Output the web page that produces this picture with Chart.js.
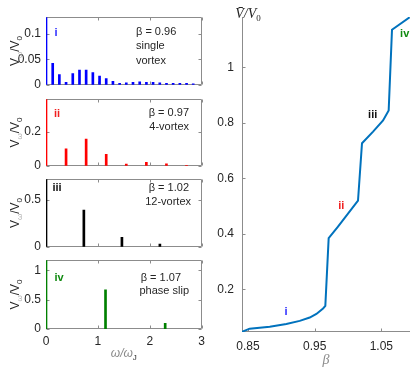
<!DOCTYPE html>
<html>
<head>
<meta charset="utf-8">
<script src="https://cdn.jsdelivr.net/npm/chart.js@4.4.1/dist/chart.umd.min.js"></script>
<style>
  body { margin: 0; background: #fff; width: 415px; height: 370px; position: relative; overflow: hidden; }
  canvas { position: absolute; }
</style>
</head>
<body>
<canvas id="p1"></canvas>
<canvas id="p2"></canvas>
<canvas id="p3"></canvas>
<canvas id="p4"></canvas>
<canvas id="vbar"></canvas>
<script>
// spectra, omega / omega_J
const omegaTicks = [0, 1, 2, 3];

const freqSingle = [0, 0.129, 0.257, 0.386, 0.515, 0.644, 0.772, 0.901, 1.03, 1.158, 1.287, 1.416,
                    1.544, 1.673, 1.802, 1.931, 2.059, 2.188, 2.317, 2.445, 2.574, 2.703, 2.831];
const ampSingle = [0.133, 0.042, 0.02, 0.005, 0.022, 0.029, 0.029, 0.024, 0.017, 0.012, 0.007, 0.003,
                   0.004, 0.005, 0.006, 0.005, 0.005, 0.004, 0.003, 0.003, 0.003, 0.003, 0.002];
const yTicksSingle = [0, 0.05, 0.1];

const freq4 = [0, 0.386, 0.772, 1.158, 1.544, 1.93, 2.316, 2.702];
const amp4 = [0.39, 0.099, 0.156, 0.067, 0.01, 0.021, 0.011, 0.003];
const yTicks4 = [0, 0.2];

const freq12 = [0, 0.728, 1.46, 2.19];
const amp12 = [0.72, 0.39, 0.1, 0.03];
const yTicks12 = [0, 0.5];

const freqSlip = [0, 1.147, 2.297];
const ampSlip = [1.17, 0.665, 0.096];
const yTicksSlip = [0, 0.5, 1];

// mean voltage vs beta
const beta = [0.841, 0.8525, 0.8826, 0.9075, 0.9276, 0.9426, 0.9526, 0.9626, 0.966, 0.971, 0.985,
              1.015, 1.021, 1.0376, 1.0526, 1.061, 1.066, 1.0925];
const vMean = [0.047, 0.058, 0.065, 0.075, 0.086, 0.098, 0.111, 0.131, 0.14, 0.384, 0.426,
               0.519, 0.726, 0.768, 0.808, 0.844, 1.135, 1.18];
const betaTicks = [0.85, 0.95, 1.05];
const vTicks = [0.2, 0.4, 0.6, 0.8, 1];

const stateLabels = ['i', 'ii', 'iii', 'iv'];
const stateBeta = [0.907, 0.99, 1.037, 1.085];
const stateV = [0.117, 0.499, 0.828, 1.121];
const stateColors = ['#2b2bff', '#f02020', '#111111', '#108a10'];

const AXIS_GREY = '#8c8c8c';
const TEXT = '#262626';
const SANS = '"Liberation Sans", Arial, sans-serif';
const SERIF = '"Liberation Serif", "Times New Roman", serif';

Chart.defaults.font.family = SANS;
Chart.defaults.font.size = 12;
Chart.defaults.color = TEXT;

// box + inward ticks, drawn under the bars
const framePlugin = {
  id: 'frame',
  beforeDatasetsDraw(chart, args, opts) {
    const { ctx, chartArea: a, scales } = chart;
    const L = Math.round(a.left) + 0.5, R = Math.round(a.right) - 0.5;
    const T = Math.round(a.top) + 0.5, B = Math.round(a.bottom) - 0.5;
    const len = opts.tickLen || 3;
    ctx.save();
    ctx.strokeStyle = AXIS_GREY;
    ctx.lineWidth = 1;
    ctx.beginPath();
    if (opts.box) {
      ctx.rect(L, T, R - L, B - T);
    } else {
      ctx.moveTo(L, a.top); ctx.lineTo(L, B); ctx.lineTo(a.right, B);
    }
    scales.x.ticks.forEach(t => {
      const px = Math.round(scales.x.getPixelForValue(t.value)) + 0.5;
      ctx.moveTo(px, B); ctx.lineTo(px, B - len);
      if (opts.box) { ctx.moveTo(px, T); ctx.lineTo(px, T + len); }
    });
    scales.y.ticks.forEach(t => {
      const py = Math.round(scales.y.getPixelForValue(t.value)) + 0.5;
      ctx.moveTo(L, py); ctx.lineTo(L + len, py);
      if (opts.box) { ctx.moveTo(R, py); ctx.lineTo(R - len, py); }
    });
    ctx.stroke();
    ctx.restore();
  }
};

// text with sub/superscripts
function drawRich(ctx, parts, x, y, rotate) {
  ctx.save();
  ctx.translate(x, y);
  if (rotate) ctx.rotate(-Math.PI / 2);
  ctx.textBaseline = 'alphabetic';
  ctx.textAlign = 'left';
  const widths = parts.map(p => { ctx.font = p.font; return ctx.measureText(p.t).width; });
  let cx = -widths.reduce((s, w) => s + w, 0) / 2;
  parts.forEach((p, i) => {
    ctx.font = p.font;
    ctx.fillStyle = p.color;
    ctx.fillText(p.t, cx, p.dy || 0);
    cx += widths[i];
  });
  ctx.restore();
}

const notesPlugin = {
  id: 'notes',
  afterDraw(chart, args, opts) {
    const { ctx, chartArea: a } = chart;
    (opts.items || []).forEach(n => {
      ctx.save();
      ctx.font = n.font;
      ctx.fillStyle = n.color;
      ctx.textAlign = n.align || 'left';
      ctx.textBaseline = 'middle';
      let x, y;
      if (n.data) {
        x = chart.scales.x.getPixelForValue(n.x);
        y = chart.scales.y.getPixelForValue(n.y);
      } else {
        x = a.left + n.x;
        y = a.top + n.y;
      }
      ctx.fillText(n.text, x, y);
      ctx.restore();
    });
    (opts.rich || []).forEach(r => drawRich(ctx, r.parts, r.x(a), r.y(a), r.rotate));
  }
};

function vOmegaTitle() {
  const big = '12px ' + SANS, small = '8px ' + SANS;
  return {
    rotate: true,
    x: a => 19,
    y: a => (a.top + a.bottom) / 2,
    parts: [
      { t: 'V', font: big, color: TEXT },
      { t: 'ω', font: small, color: '#b0b0b0', dy: 3 },
      { t: '/V', font: big, color: TEXT },
      { t: '0', font: small, color: TEXT, dy: 3 }
    ]
  };
}

function setupCanvas(id, left, top, w, h) {
  const c = document.getElementById(id);
  c.width = w; c.height = h;
  c.style.left = left + 'px'; c.style.top = top + 'px';
  c.style.width = w + 'px'; c.style.height = h + 'px';
  return c;
}

const bold = 'bold 11px ' + SANS;
const plain = '11px ' + SANS;

const panels = [
  { id: 'p1', top: 17, bottom: 85, freq: freqSingle, amp: ampSingle, yMax: 0.133, yTicks: yTicksSingle,
    color: '#0000ff', notes: [
      { text: stateLabels[0], x: 10, y: 16, font: bold, color: stateColors[0], align: 'center' },
      { text: 'β = 0.96', x: 90, y: 15, font: plain, color: TEXT },
      { text: 'single', x: 90, y: 29, font: plain, color: TEXT },
      { text: 'vortex', x: 90, y: 44, font: plain, color: TEXT }
    ] },
  { id: 'p2', top: 99, bottom: 166, freq: freq4, amp: amp4, yMax: 0.39, yTicks: yTicks4,
    color: '#ff0000', notes: [
      { text: stateLabels[1], x: 11, y: 15, font: bold, color: stateColors[1], align: 'center' },
      { text: 'β = 0.97', x: 143, y: 14, font: plain, color: TEXT, align: 'right' },
      { text: '4-vortex', x: 143, y: 28, font: plain, color: TEXT, align: 'right' }
    ] },
  { id: 'p3', top: 179, bottom: 247, freq: freq12, amp: amp12, yMax: 0.72, yTicks: yTicks12,
    color: '#000000', notes: [
      { text: stateLabels[2], x: 11, y: 9, font: bold, color: stateColors[2], align: 'center' },
      { text: 'β = 1.02', x: 143, y: 9, font: plain, color: TEXT, align: 'right' },
      { text: '12-vortex', x: 145, y: 23, font: plain, color: TEXT, align: 'right' }
    ] },
  { id: 'p4', top: 260, bottom: 329, freq: freqSlip, amp: ampSlip, yMax: 1.17, yTicks: yTicksSlip,
    color: '#008000', showX: true, notes: [
      { text: stateLabels[3], x: 13, y: 18, font: bold, color: stateColors[3], align: 'center' },
      { text: 'β = 1.07', x: 135, y: 18, font: plain, color: TEXT, align: 'right' },
      { text: 'phase slip', x: 143, y: 31, font: plain, color: TEXT, align: 'right' }
    ] }
];

panels.forEach(p => {
  const canvasTop = p.top - 12;
  const h = p.showX ? 370 - canvasTop : (p.bottom - p.top) + 24;
  const cv = setupCanvas(p.id, 0, canvasTop, 210, h);
  const rich = [vOmegaTitle()];
  if (p.showX) {
    const it = 'italic 12px ' + SANS;
    rich.push({
      x: a => (a.left + a.right) / 2,
      y: a => 357 - canvasTop,
      parts: [
        { t: 'ω/ω', font: it, color: '#8a8a8a' },
        { t: 'J', font: '8px ' + SANS, color: TEXT, dy: 3 }
      ]
    });
  }
  new Chart(cv, {
    type: 'bar',
    data: {
      datasets: [{
        data: p.freq.map((f, i) => ({ x: f, y: p.amp[i] })),
        backgroundColor: p.color,
        barThickness: 2
      }]
    },
    options: {
      responsive: false,
      animation: false,
      events: [],
      layout: { padding: { top: 12, bottom: p.showX ? 0 : 12, left: 0, right: 8 } },
      scales: {
        x: {
          type: 'linear', min: 0, max: 3, offset: false,
          display: !!p.showX,
          afterBuildTicks: s => { s.ticks = omegaTicks.map(v => ({ value: v })); },
          afterFit: s => { if (p.showX) s.height = 370 - p.bottom; },
          grid: { display: false, drawTicks: false },
          border: { display: false },
          ticks: { padding: 5, maxRotation: 0, font: { size: 12 } }
        },
        y: {
          min: 0, max: p.yMax,
          afterBuildTicks: s => { s.ticks = p.yTicks.map(v => ({ value: v })); },
          afterFit: s => { s.width = 46; },
          grid: { display: false, drawTicks: false },
          border: { display: false },
          ticks: { padding: 5, font: { size: 12 }, callback: v => String(v) }
        }
      },
      plugins: {
        legend: { display: false },
        tooltip: { enabled: false },
        frame: { box: true, tickLen: 3 },
        notes: { items: p.notes, rich: rich }
      }
    },
    plugins: [framePlugin, notesPlugin]
  });
});

// right: mean voltage
const cvR = setupCanvas('vbar', 210, 0, 205, 370);
const stateNotes = stateLabels.map((t, i) => ({
  text: t, x: stateBeta[i], y: stateV[i], data: true,
  font: 'bold 11px ' + SANS, color: stateColors[i], align: 'center'
}));
new Chart(cvR, {
  type: 'line',
  data: {
    datasets: [{
      data: beta.map((b, i) => ({ x: b, y: vMean[i] })),
      borderColor: '#0072BD',
      borderWidth: 2,
      pointRadius: 0,
      tension: 0,
      fill: false
    }]
  },
  options: {
    responsive: false,
    animation: false,
    events: [],
    layout: { padding: { top: 17, bottom: 0, left: 0, right: 5 } },
    scales: {
      x: {
        type: 'linear', min: 0.841, max: 1.093,
        afterBuildTicks: s => { s.ticks = betaTicks.map(v => ({ value: v })); },
        afterFit: s => { s.height = 38; },
        grid: { display: false, drawTicks: false },
        border: { display: false },
        ticks: { padding: 7, maxRotation: 0, font: { size: 12 }, callback: v => v.toFixed(2) }
      },
      y: {
        type: 'linear', min: 0.046, max: 1.181,
        afterBuildTicks: s => { s.ticks = vTicks.map(v => ({ value: v })); },
        afterFit: s => { s.width = 32; },
        grid: { display: false, drawTicks: false },
        border: { display: false },
        ticks: { padding: 8, font: { size: 12 }, callback: v => String(v) }
      }
    },
    plugins: {
      legend: { display: false },
      tooltip: { enabled: false },
      frame: { box: false, tickLen: 3 },
      notes: {
        items: stateNotes,
        rich: [
          { x: a => 38, y: a => 18, parts: [
            { t: 'V\u0304/V', font: 'italic 14px ' + SERIF, color: TEXT },
            { t: '0', font: '9px ' + SERIF, color: TEXT, dy: 3 }
          ] },
          { x: a => (a.left + a.right) / 2, y: a => 364, parts: [
            { t: 'β', font: 'italic 14px ' + SERIF, color: '#8a8a8a' }
          ] }
        ]
      }
    }
  },
  plugins: [framePlugin, notesPlugin]
});
</script>
</body>
</html>
